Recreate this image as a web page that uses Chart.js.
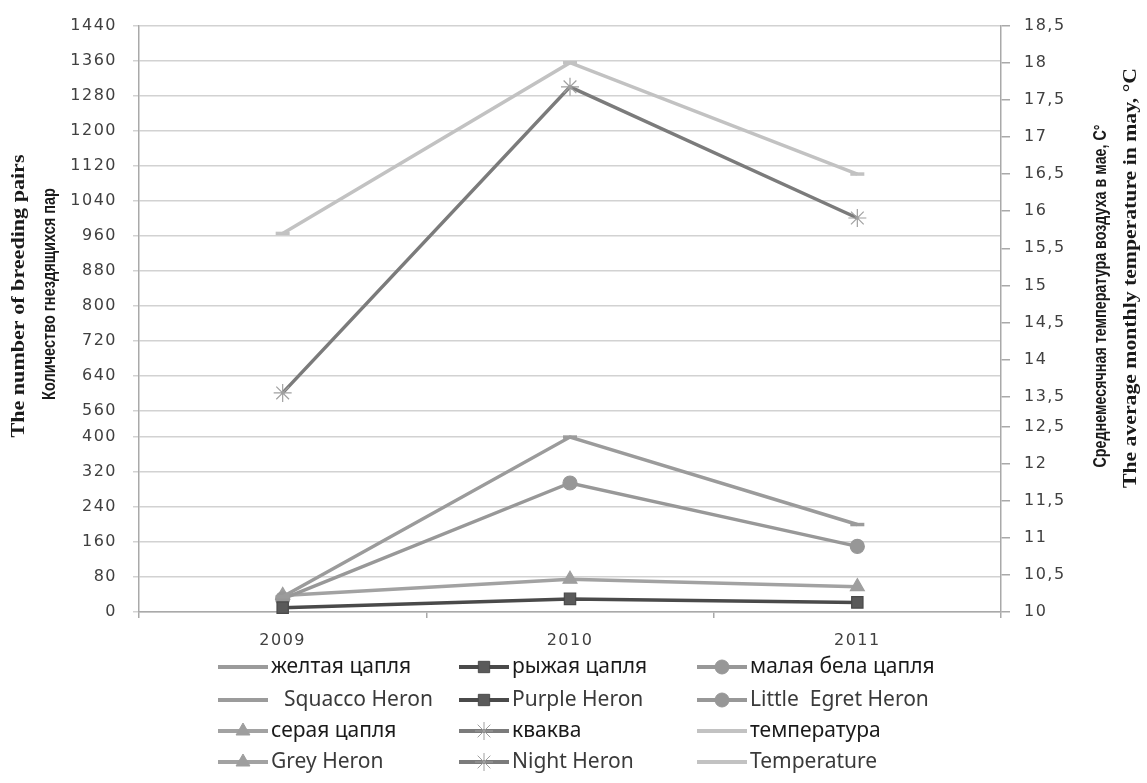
<!DOCTYPE html>
<html>
<head>
<meta charset="utf-8">
<script src="https://cdn.jsdelivr.net/npm/chart.js@4.4.1/dist/chart.umd.min.js"></script>
<style>
  html, body { margin: 0; padding: 0; background: #fff; }
  #wrap { width: 1147px; height: 783px; }
</style>
</head>
<body>
<div id="wrap"><canvas id="chart"></canvas></div>
<script>
// ---- data ----
const years = ['2009', '2010', '2011'];

const squaccoHeron = [35, 400, 200];
const purpleHeron = [10, 30, 22];
const littleEgret = [30, 295, 150];
const greyHeron = [38, 75, 58];
const nightHeron = [600, 1300, 1000];
const temperature = [15.7, 18, 16.5];

const namesRu = ['желтая цапля', 'рыжая цапля', 'малая бела цапля', 'серая цапля', 'кваква', 'температура'];
const namesEn = ['Squacco Heron', 'Purple Heron', 'Little  Egret Heron', 'Grey Heron', 'Night Heron', 'Temperature'];

const pairsTicks = [0, 80, 160, 240, 320, 400, 560, 640, 720, 800, 880, 960, 1040, 1120, 1200, 1280, 1360, 1440];
const tempTicks = [10, 10.5, 11, 11.5, 12, 12.5, 13.5, 14, 14.5, 15, 15.5, 16, 16.5, 17, 17.5, 18, 18.5];

// both value axes of the original are broken (400 -> 560 and 12,5 -> 13,5)
const axisBreaks = {
  y: { from: 400, to: 560, gap: 61 },
  yT: { from: 12.5, to: 13.5, gap: 0.4 }
};
const axisTicks = { y: pairsTicks, yT: tempTicks };

class BrokenScale extends Chart.LinearScale {
  static id = 'broken';
  static defaults = Chart.LinearScale.defaults;

  buildTicks() {
    return axisTicks[this.id].map(v => ({ value: v }));
  }

  getPixelForValue(value) {
    if (value === null || value === undefined || isNaN(value)) return NaN;
    const b = axisBreaks[this.id];
    const lo = this.min, hi = this.max;
    let v;
    if (value <= b.from) v = value - lo;
    else if (value >= b.to) v = (b.from - lo) + b.gap + (value - b.to);
    else v = (b.from - lo) + b.gap * (value - b.from) / (b.to - b.from);
    const total = (b.from - lo) + b.gap + (hi - b.to);
    return this.getPixelForDecimal(v / total);
  }
}
Chart.register(BrokenScale);

const series = [
  { data: squaccoHeron, axis: 'y', color: '#9b9b9b', style: 'line', radius: 7, fill: '#9b9b9b', stroke: '#9b9b9b' },
  { data: purpleHeron, axis: 'y', color: '#4a4a4a', style: 'rect', radius: 8, fill: '#5a5a5a', stroke: '#4a4a4a' },
  { data: littleEgret, axis: 'y', color: '#989898', style: 'circle', radius: 7, fill: '#979797', stroke: '#979797' },
  { data: greyHeron, axis: 'y', color: '#a2a2a2', style: 'triangle', radius: 8, fill: '#9e9e9e', stroke: '#9e9e9e' },
  { data: nightHeron, axis: 'y', color: '#7b7b7b', style: 'star', radius: 9, fill: '#a0a0a0', stroke: '#a0a0a0' },
  { data: temperature, axis: 'yT', color: '#c2c2c2', style: 'line', radius: 7, fill: '#c2c2c2', stroke: '#c2c2c2' }
];

const tickFont = { family: '"DejaVu Sans", Verdana, sans-serif', size: 16 };
const tickColor = '#404040';
const axisColor = '#a9a9a9';
const gridColor = '#d2d2d2';

// rotated axis titles, stretched to the length they have in the original
function drawVertical(ctx, text, font, cx, cy, len, color) {
  ctx.save();
  ctx.font = font;
  ctx.fillStyle = color;
  ctx.textAlign = 'center';
  ctx.textBaseline = 'middle';
  const w = ctx.measureText(text).width;
  ctx.translate(cx, cy);
  ctx.rotate(-Math.PI / 2);
  ctx.scale(len / w, 1);
  ctx.fillText(text, 0, 0);
  ctx.restore();
}

const decorPlugin = {
  id: 'decor',
  beforeDraw(chart) {
    chart.ctx.letterSpacing = '1.5px';
  },
  afterDraw(chart) {
    const ctx = chart.ctx;
    ctx.letterSpacing = '0px';

    const narrow = 'bold 18px "Liberation Sans Narrow", "Liberation Sans", sans-serif';
    const serif = 'bold 18px "Liberation Serif", serif';
    drawVertical(ctx, 'The number of breeding pairs', serif, 19, 296, 283, '#1a1a1a');
    drawVertical(ctx, 'Количество гнездящихся пар', narrow, 50, 294, 212, '#1a1a1a');
    drawVertical(ctx, 'Среднемесячная температура воздуха в мае, С°', narrow, 1101, 296, 343, '#1a1a1a');
    drawVertical(ctx, 'The average monthly temperature in may, °C', serif, 1131, 278, 420, '#1a1a1a');

    // legend: Russian and English label for each series, three columns
    const colX = [218, 459, 697];
    const rowY = [667, 700, 731, 762];
    const textShift = [0, 13, 0, 0];
    ctx.save();
    ctx.font = '21px "Noto Sans", sans-serif';
    ctx.textBaseline = 'middle';
    ctx.textAlign = 'left';
    series.forEach((s, i) => {
      const col = i % 3;
      const block = Math.floor(i / 3);
      [namesRu[i], namesEn[i]].forEach((label, k) => {
        const row = block * 2 + k;
        const x0 = colX[col];
        const y = rowY[row];
        ctx.strokeStyle = s.color;
        ctx.lineWidth = 4;
        ctx.beginPath();
        ctx.moveTo(x0, y);
        ctx.lineTo(x0 + 50, y);
        ctx.stroke();
        if (s.style !== 'line') {
          ctx.fillStyle = s.fill;
          ctx.strokeStyle = s.stroke;
          ctx.lineWidth = 1;
          Chart.helpers.drawPoint(ctx, { pointStyle: s.style, radius: s.radius, rotation: 0, borderWidth: 1 }, x0 + 25, y);
        }
        ctx.fillStyle = k === 0 ? '#1a1a1a' : '#3a3a3a';
        ctx.fillText(label, x0 + 53 + (col === 0 ? textShift[row] : 0), y);
      });
    });
    ctx.restore();
  }
};

new Chart(document.getElementById('chart'), {
  type: 'line',
  data: {
    labels: years,
    datasets: series.map((s, i) => ({
      label: namesEn[i],
      data: s.data,
      yAxisID: s.axis,
      borderColor: s.color,
      backgroundColor: s.color,
      borderWidth: 3.5,
      tension: 0,
      fill: false,
      pointStyle: s.style,
      pointRadius: s.radius,
      pointBackgroundColor: s.fill,
      pointBorderColor: s.stroke,
      pointBorderWidth: s.style === 'line' ? 3.5 : 1.2,
      clip: false
    }))
  },
  options: {
    responsive: true,
    maintainAspectRatio: false,
    animation: false,
    layout: { padding: { top: 20, left: 0, right: 0, bottom: 0 } },
    plugins: {
      legend: { display: false },
      tooltip: { enabled: false }
    },
    scales: {
      x: {
        offset: true,
        grid: { offset: true, drawOnChartArea: false, tickLength: 6, color: axisColor, lineWidth: 1.5 },
        border: { color: axisColor, width: 1.5 },
        ticks: { font: tickFont, color: tickColor, padding: 13 },
        afterFit: scale => { scale.height = 171; }
      },
      y: {
        type: 'broken',
        position: 'left',
        min: 0,
        max: 1440,
        grid: { color: gridColor, lineWidth: 1.5, tickLength: 6 },
        border: { color: axisColor, width: 1.5 },
        ticks: { font: tickFont, color: tickColor, padding: 16, autoSkip: false, callback: v => String(v) },
        afterFit: scale => { scale.width = 139; }
      },
      yT: {
        type: 'broken',
        position: 'right',
        min: 10,
        max: 18.5,
        grid: { drawOnChartArea: false, color: axisColor, lineWidth: 1.5, tickLength: 9 },
        border: { color: axisColor, width: 1.5 },
        ticks: {
          font: tickFont,
          color: tickColor,
          padding: 14,
          autoSkip: false,
          callback: v => String(v).replace('.', ',')
        },
        afterFit: scale => { scale.width = 146; }
      }
    }
  },
  plugins: [decorPlugin]
});
</script>
</body>
</html>
